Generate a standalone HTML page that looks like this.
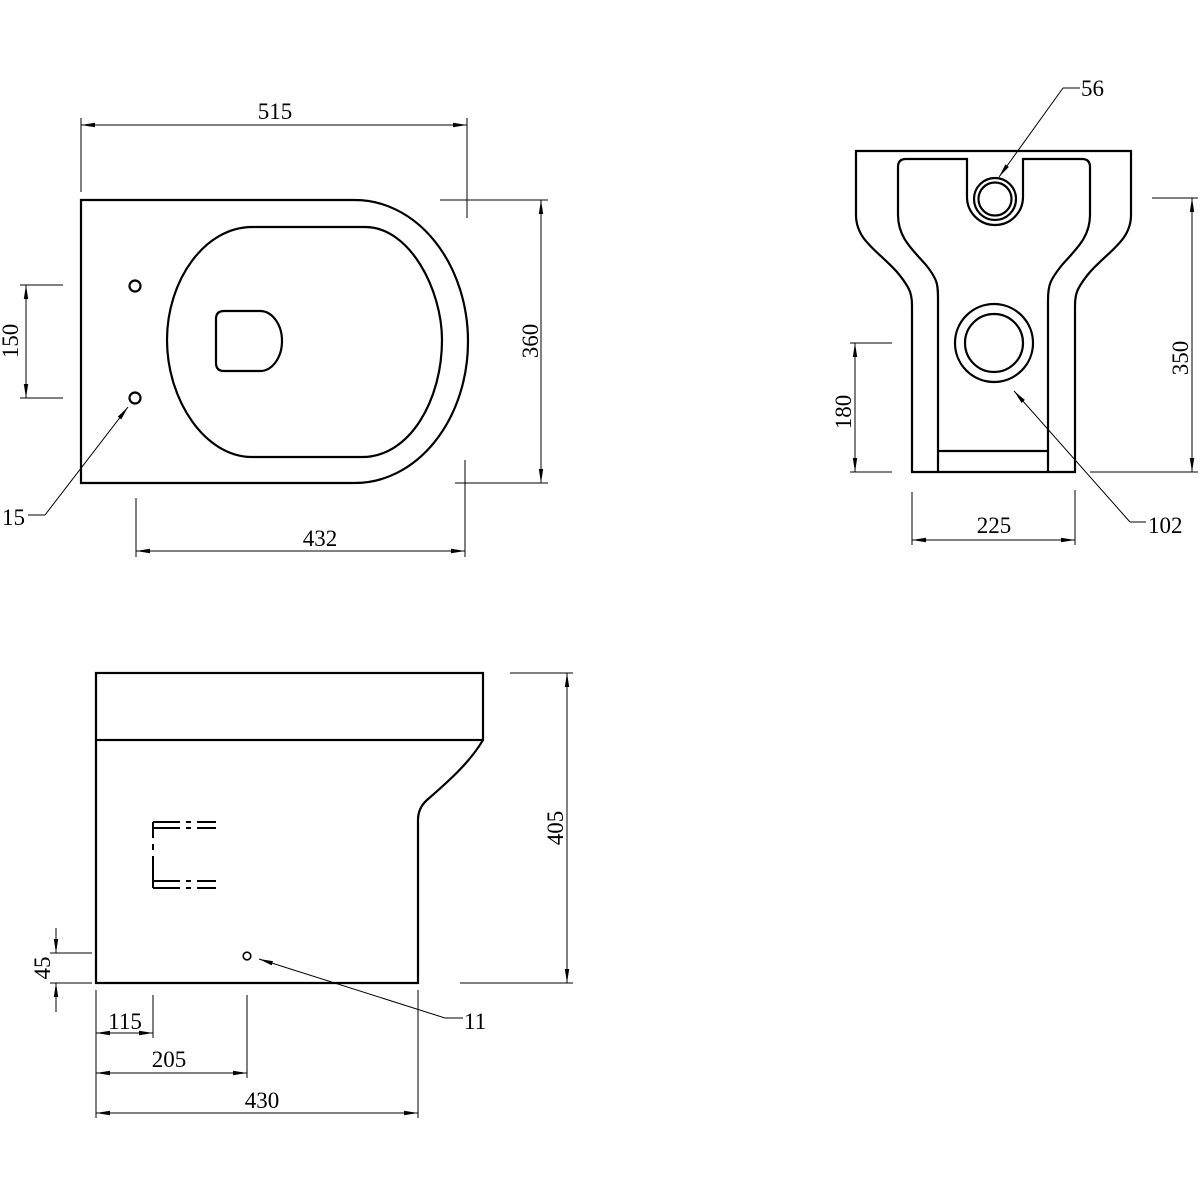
<!DOCTYPE html>
<html><head><meta charset="utf-8"><style>
html,body{margin:0;padding:0;background:#fff;}
svg{display:block;}
text{font-family:"Liberation Serif",serif;font-size:23px;fill:#000;}
</style></head><body>
<svg width="1200" height="1200" viewBox="0 0 1200 1200" xmlns="http://www.w3.org/2000/svg">
<defs>
<marker id="a" markerWidth="14" markerHeight="6" refX="14" refY="3" orient="auto-start-reverse" markerUnits="userSpaceOnUse">
<path d="M0,0.8 L14,3 L0,5.2 Z" fill="#000"/></marker>
</defs>
<g fill="none" stroke="#000" stroke-width="2.2">
<!-- top-left plan -->
<path d="M81,200 H355 A113 141.5 0 0 1 355,483 H81 Z"/>
<path d="M252,227 H365 C410,227 442,290 442,340 C442,400 410,457 362,457 H252 C205,457 167,400 167,340 C167,280 205,227 252,227 Z"/>
<path d="M224,311 H260 A22 30 0 0 1 260,371 H224 Q216,371 216,363 V319 Q216,311 224,311 Z"/>
<circle cx="135" cy="286" r="5.5"/>
<circle cx="135" cy="398" r="5.5"/>
<!-- front view -->
<path d="M856,151 H1131 V215 C1131,240 1110,250 1090,272 C1075,290 1075,295 1075,310 V472 H912 V310 C912,295 912,290 897,272 C877,250 856,240 856,215 Z"/>
<path d="M906,159 H967 V197 A28 28 0 0 0 1023,197 V159 H1082 Q1090,159 1090,167 V215 C1090,238 1075,250 1062,265 C1050,280 1048,285 1048,300 V472 M898,167 Q898,159 906,159 M898,167 V215 C898,238 913,250 926,265 C938,280 938,285 938,300 V472"/>
<line x1="938" y1="451" x2="1048" y2="451"/>
<circle cx="995" cy="199" r="21"/>
<circle cx="995" cy="199" r="16.5"/>
<circle cx="994" cy="343" r="39"/>
<circle cx="994" cy="343" r="29"/>
<!-- side view -->
<rect x="96" y="673" width="387" height="67"/>
<path d="M96,740 V983 H418 V820 Q418,808 427,800 C450,780 470,762 483,740"/>
</g>
<g fill="none" stroke="#000" stroke-width="2">
<path d="M153,822 V838 M153,844 V850 M153,856 V888" />
<path d="M153,822 H180 M186,822 H191 M197,822 H216 M153,828 H180 M186,828 H191 M197,828 H216"/>
<path d="M153,881 H180 M186,881 H191 M197,881 H216 M153,888 H180 M186,888 H191 M197,888 H216"/>
<circle cx="247" cy="956" r="3.8" stroke-width="1.6"/>
</g>
<!-- dimension lines -->
<g fill="none" stroke="#000" stroke-width="1">
<line x1="81" y1="118" x2="81" y2="192"/><line x1="467" y1="118" x2="467" y2="218"/>
<line x1="81" y1="125" x2="467" y2="125" marker-start="url(#a)" marker-end="url(#a)"/>
<line x1="440" y1="200" x2="548" y2="200"/><line x1="455" y1="483" x2="548" y2="483"/>
<line x1="541" y1="200" x2="541" y2="483" marker-start="url(#a)" marker-end="url(#a)"/>
<line x1="20" y1="285" x2="63" y2="285"/><line x1="20" y1="398" x2="63" y2="398"/>
<line x1="26" y1="285" x2="26" y2="398" marker-start="url(#a)" marker-end="url(#a)"/>
<line x1="136" y1="498" x2="136" y2="557"/><line x1="465" y1="460" x2="465" y2="557"/>
<line x1="136" y1="551" x2="465" y2="551" marker-start="url(#a)" marker-end="url(#a)"/>
<line x1="128" y1="407" x2="45" y2="515" marker-start="url(#a)"/><line x1="45" y1="515" x2="28" y2="515"/>
<line x1="999" y1="177" x2="1063" y2="88" marker-start="url(#a)"/><line x1="1063" y1="88" x2="1080" y2="88"/>
<line x1="1152" y1="198" x2="1198" y2="198"/><line x1="1090" y1="472" x2="1198" y2="472"/>
<line x1="1192" y1="198" x2="1192" y2="472" marker-start="url(#a)" marker-end="url(#a)"/>
<line x1="850" y1="343" x2="892" y2="343"/><line x1="850" y1="472" x2="892" y2="472"/>
<line x1="855" y1="343" x2="855" y2="472" marker-start="url(#a)" marker-end="url(#a)"/>
<line x1="912" y1="492" x2="912" y2="545"/><line x1="1075" y1="490" x2="1075" y2="545"/>
<line x1="912" y1="540" x2="1075" y2="540" marker-start="url(#a)" marker-end="url(#a)"/>
<line x1="1014" y1="391" x2="1130" y2="522" marker-start="url(#a)"/><line x1="1130" y1="522" x2="1146" y2="522"/>
<line x1="510" y1="673" x2="573" y2="673"/><line x1="460" y1="983" x2="573" y2="983"/>
<line x1="567" y1="673" x2="567" y2="983" marker-start="url(#a)" marker-end="url(#a)"/>
<line x1="50" y1="953" x2="92" y2="953"/><line x1="50" y1="983" x2="92" y2="983"/>
<line x1="56" y1="928" x2="56" y2="953" marker-end="url(#a)"/><line x1="56" y1="1012" x2="56" y2="983" marker-end="url(#a)"/>
<line x1="96" y1="990" x2="96" y2="1118"/><line x1="418" y1="990" x2="418" y2="1118"/>
<line x1="153" y1="995" x2="153" y2="1038"/><line x1="247" y1="995" x2="247" y2="1078"/>
<line x1="96" y1="1033" x2="153" y2="1033" marker-start="url(#a)" marker-end="url(#a)"/>
<line x1="96" y1="1073" x2="247" y2="1073" marker-start="url(#a)" marker-end="url(#a)"/>
<line x1="96" y1="1113" x2="418" y2="1113" marker-start="url(#a)" marker-end="url(#a)"/>
<line x1="259" y1="959" x2="445" y2="1018" marker-start="url(#a)"/><line x1="445" y1="1018" x2="463" y2="1018"/>
</g>
<g>
<text x="275" y="119" text-anchor="middle">515</text>
<text x="0" y="0" text-anchor="middle" transform="translate(538,341) rotate(-90)">360</text>
<text x="0" y="0" text-anchor="middle" transform="translate(18,341) rotate(-90)">150</text>
<text x="320" y="546" text-anchor="middle">432</text>
<text x="2" y="525">15</text>
<text x="1081" y="96">56</text>
<text x="0" y="0" text-anchor="middle" transform="translate(1188,358) rotate(-90)">350</text>
<text x="0" y="0" text-anchor="middle" transform="translate(851,412) rotate(-90)">180</text>
<text x="994" y="533" text-anchor="middle">225</text>
<text x="1148" y="533">102</text>
<text x="0" y="0" text-anchor="middle" transform="translate(563,828) rotate(-90)">405</text>
<text x="0" y="0" text-anchor="middle" transform="translate(50,968) rotate(-90)">45</text>
<text x="125" y="1029" text-anchor="middle">115</text>
<text x="169" y="1067" text-anchor="middle">205</text>
<text x="262" y="1108" text-anchor="middle">430</text>
<text x="464" y="1029">11</text>
</g>
</svg>
</body></html>
